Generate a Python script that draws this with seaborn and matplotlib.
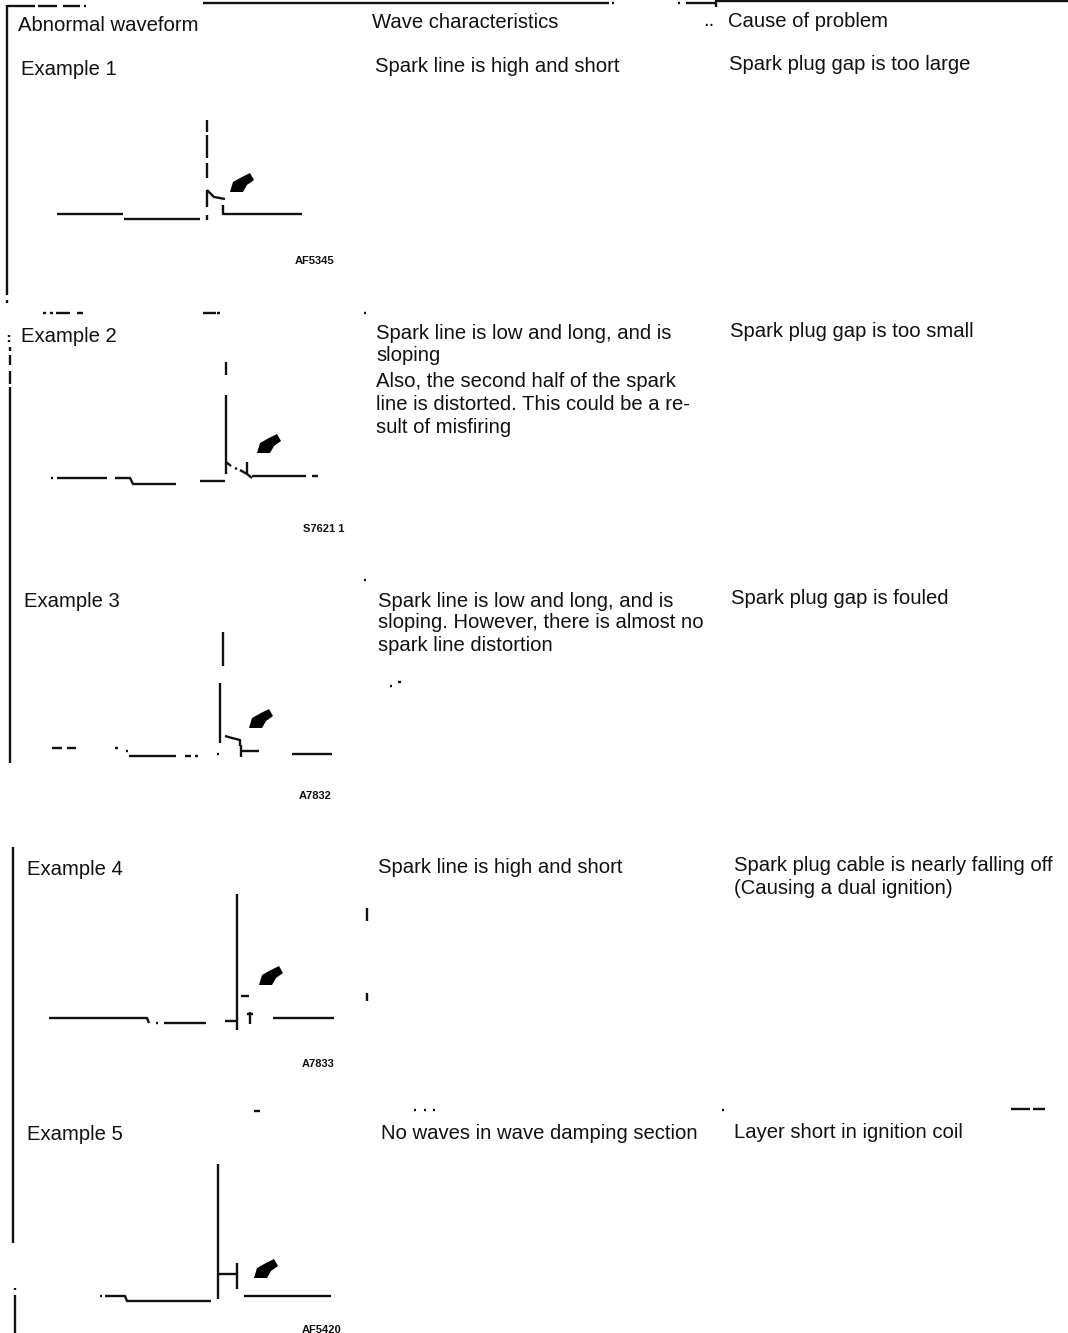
import matplotlib
matplotlib.use("Agg")
import matplotlib.pyplot as plt
import pandas as pd
import seaborn as sns

# Each trace is (x values, y values) in image pixels
border_traces = [
    ([7, 35], [5.5, 5.5]), ([38, 57], [5.5, 5.5]), ([63, 80], [5.5, 5.5]), ([84, 86], [5.5, 5.5]),
    ([203, 609], [3, 3]), ([612, 614], [3, 3]), ([678, 680], [3, 3]), ([686, 716], [3, 3]),
    ([715, 1068], [1, 1]), ([716, 716], [1, 7]),
    ([7, 7], [5, 295]), ([7, 7], [300, 303]),
    ([43, 46], [313, 313]), ([50, 53], [313, 313]), ([56, 70], [313, 313]), ([77, 83], [313, 313]),
    ([203, 216], [313, 313]), ([217, 220], [313, 313]), ([364, 366], [313, 313]),
    ([9, 9], [335, 337]), ([9, 9], [340, 342]),
    ([10, 10], [347, 351]), ([10, 10], [355, 365]), ([10, 10], [371, 384]), ([10, 10], [387, 763]),
    ([364, 366], [580, 580]), ([390, 392], [686, 686]), ([398, 401], [682, 682]),
    ([13, 13], [847, 1243]), ([15, 15], [1288, 1290]), ([15, 15], [1295, 1333]),
    ([367, 367], [908, 921]), ([367, 367], [993, 1001]), ([254, 260], [1111, 1111]),
    ([414, 416], [1110, 1110]), ([424, 426], [1110, 1110]), ([433, 435], [1110, 1110]),
    ([722, 724], [1110, 1110]), ([1011, 1030], [1109, 1109]), ([1033, 1045], [1109, 1109]),
]
wave_1 = [
    ([57, 123], [214, 214]), ([124, 200], [219, 219]),
    ([207, 207], [120, 132]), ([207, 207], [135, 158]), ([207, 207], [163, 178]),
    ([207, 207], [190, 207]), ([207, 207], [215, 220]),
    ([207, 214, 225], [190, 197, 199]), ([223, 223, 302], [205, 214, 214]),
]
wave_2 = [
    ([51, 53], [478, 478]), ([57, 107], [478, 478]), ([115, 130, 133, 176], [478, 478, 484, 484]),
    ([200, 225], [481, 481]), ([226, 226], [362, 375]), ([226, 226], [395, 474]),
    ([226, 231], [462, 466]), ([235, 237], [468, 469]), ([240, 247, 252], [470, 474, 478]),
    ([247, 247], [462, 474]), ([252, 306], [476, 476]), ([312, 318], [476, 476]),
]
wave_3 = [
    ([52, 62], [748, 748]), ([67, 76], [748, 748]), ([115, 118], [748, 748]), ([126, 128], [751, 751]),
    ([129, 176], [756, 756]), ([185, 191], [756, 756]), ([195, 198], [756, 756]), ([217, 219], [754, 754]),
    ([223, 223], [632, 666]), ([220, 220], [683, 743]),
    ([225, 232, 240, 240], [736, 738, 740, 746]), ([241, 259], [751, 751]), ([241, 241], [745, 757]),
    ([292, 332], [754, 754]),
]
wave_4 = [
    ([49, 147, 149], [1018, 1018, 1023]), ([156, 158], [1023, 1023]), ([164, 206], [1023, 1023]),
    ([225, 237], [1021, 1021]), ([237, 237], [894, 1030]), ([241, 249], [996, 996]),
    ([250, 250], [1012, 1024]), ([247, 253], [1014, 1014]), ([273, 334], [1018, 1018]),
]
wave_5 = [
    ([100, 102], [1296, 1296]), ([105, 125, 127, 211], [1296, 1296, 1301, 1301]),
    ([218, 218], [1164, 1299]), ([218, 236], [1274, 1274]), ([237, 237], [1263, 1289]),
    ([244, 331], [1296, 1296]),
]
arrow_x = [[230, 233, 242, 250, 254, 247, 243], [257, 260, 269, 277, 281, 274, 270],
           [249, 252, 261, 269, 273, 266, 262], [259, 262, 271, 279, 283, 276, 272],
           [254, 257, 266, 274, 278, 271, 267]]
arrow_y = [[192, 182, 177, 173, 180, 185, 192], [453, 443, 438, 434, 441, 446, 453],
           [728, 718, 713, 709, 716, 721, 728], [985, 975, 970, 966, 973, 978, 985],
           [1278, 1268, 1263, 1259, 1266, 1271, 1278]]

text_font_size = 14.6
text_labels = [
    "Abnormal waveform", "Wave characteristics", "Cause of problem", "Example 1",
    "Spark line is high and short", "Spark plug gap is too large", "Example 2",
    "Spark line is low and long, and is", "sloping", "Also, the second half of the spark",
    "line is distorted. This could be a re-", "sult of misfiring", "Spark plug gap is too small",
    "Example 3", "Spark line is low and long, and is", "sloping. However, there is almost no",
    "spark line distortion", "Spark plug gap is fouled", "Example 4", "Spark line is high and short",
    "Spark plug cable is nearly falling off", "(Causing a dual ignition)", "Example 5",
    "No waves in wave damping section", "Layer short in ignition coil", "..",
]
text_x = [18, 372, 728, 21, 375, 729, 21, 376, 376, 376, 376, 376, 730, 24, 378, 378, 378, 731,
          27, 378, 734, 734, 27, 381, 734, 703]
text_baseline = [31, 28, 27, 75, 72, 70, 342, 339, 361, 387, 410, 433, 337, 607, 607, 628, 651, 604,
                 875, 873, 871, 894, 1140, 1139, 1138, 26]
code_labels = ["AF5345", "S7621 1", "A7832", "A7833", "AF5420"]
code_x = [295, 303, 299, 302, 302]
code_y = [261, 529, 796, 1064, 1330]

rows = []
all_traces = border_traces + wave_1 + wave_2 + wave_3 + wave_4 + wave_5
for seg, (xs, ys) in enumerate(all_traces):
    for order, (x, y) in enumerate(zip(xs, ys)):
        rows.append({"seg": seg, "order": order, "x": x, "y": y})
df = pd.DataFrame(rows)

sns.set_theme(style="white", rc={"lines.solid_capstyle": "butt"})
plt.rcParams["font.family"] = ["Liberation Sans", "DejaVu Sans"]

fig = plt.figure(figsize=(10.68, 13.33), dpi=100, facecolor="white")
ax = fig.add_axes([0, 0, 1, 1])
sns.lineplot(data=df, x="x", y="y", units="seg", estimator=None, sort=False,
             color="#111111", linewidth=1.7, legend=False, ax=ax)
for xs, ys in zip(arrow_x, arrow_y):
    ax.fill(xs, ys, color="#000000", lw=0)
for label, x, y in zip(text_labels, text_x, text_baseline):
    ax.text(x, y, label, fontsize=text_font_size, ha="left", va="baseline", color="#111111")
for label, x, y in zip(code_labels, code_x, code_y):
    ax.text(x, y, label, fontsize=8, ha="left", va="center", color="#111111", fontweight="bold")
ax.set_xlim(0, 1068)
ax.set_ylim(1333, 0)
ax.axis("off")
fig.savefig("out.png", dpi=100, facecolor="white")
